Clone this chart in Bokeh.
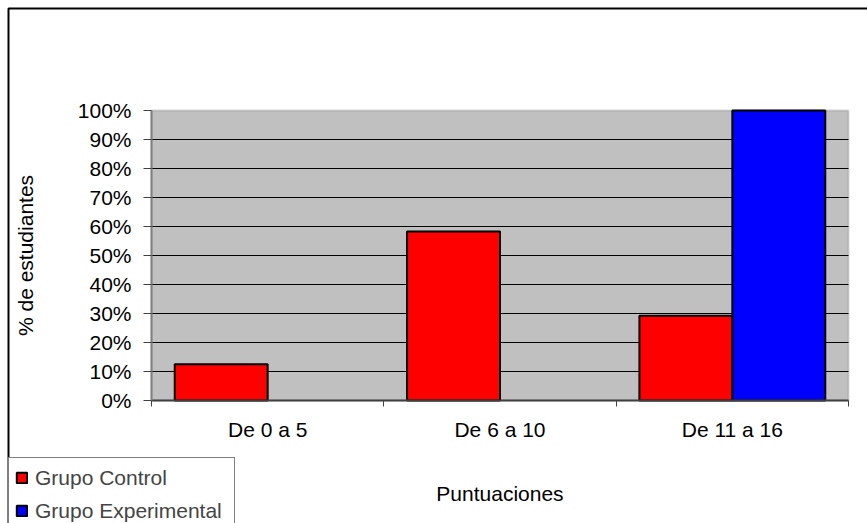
from bokeh.plotting import figure
from bokeh.models import (Range1d, FixedTicker, NumeralTickFormatter, Legend,
                          LegendItem, BoxAnnotation, ColumnDataSource, LinearAxis)
from bokeh.embed import file_html
from bokeh.resources import INLINE

# Score bands and share of students in each group
categories = ["De 0 a 5", "De 6 a 10", "De 11 a 16"]
series_names = ["Grupo Control", "Grupo Experimental"]
control = [0.125, 0.583, 0.292]
experimental = [0.0, 0.0, 1.0]
series_values = [control, experimental]
colors = ["#FF0000", "#0000FF"]
y_ticks = [0.0, 0.1, 0.2, 0.3, 0.4, 0.5, 0.6, 0.7, 0.8, 0.9, 1.0]

FONT = "Liberation Sans"
FS = "21px"

W, H = 867, 523
# pixel box of the plotting area inside the canvas
AREA_L, AREA_R, AREA_T, AREA_B = 151, 848, 110, 400
# chart border: left and top edges (right and bottom run past the canvas)
EDGE = 8

n_cat = len(categories)
y_max = y_ticks[-1]
px_x = (AREA_R - AREA_L) / n_cat
px_y = (AREA_B - AREA_T) / y_max


def to_x(px):
    return (px - AREA_L) / px_x


def to_y(py):
    return (AREA_B - py) / px_y


# the frame covers the whole canvas; axes are pinned to the plotting area
p = figure(width=W, height=H, min_border=0,
           x_range=Range1d(to_x(0), to_x(W)),
           y_range=Range1d(to_y(H), to_y(0)),
           x_axis_location=None, y_axis_location=None,
           output_backend="svg", toolbar_location=None)
p.outline_line_color = None
p.background_fill_color = "white"
p.border_fill_color = "white"
p.xgrid.visible = False
p.ygrid.visible = False

# chart border
p.line(x=[to_x(EDGE), to_x(EDGE), to_x(W + 10)],
       y=[to_y(H + 10), to_y(EDGE), to_y(EDGE)],
       line_color="black", line_width=2)

# grey plotting area with its border
p.add_layout(BoxAnnotation(left=0, right=n_cat, bottom=0, top=y_max,
                           fill_color="#C0C0C0", fill_alpha=1,
                           line_color="#808080", line_width=2,
                           level="underlay"))

# horizontal gridlines
inner = y_ticks[1:-1]
p.segment(x0=[0] * len(inner), x1=[n_cat] * len(inner), y0=inner, y1=inner,
          line_color="black", line_width=1)

# bars: each category spans one unit, two bars side by side
bar_w = 0.4
offsets = [-0.2, 0.2]
renderers = []
for vals, color, off in zip(series_values, colors, offsets):
    xs = [i + 0.5 + off for i, v in enumerate(vals) if v > 0]
    tops = [v for v in vals if v > 0]
    src = ColumnDataSource(data=dict(x=xs, top=tops))
    r = p.vbar(x="x", top="top", width=bar_w, bottom=0, source=src,
               fill_color=color, line_color="black", line_width=2)
    renderers.append(r)

# y axis
yax = LinearAxis(fixed_location=0, bounds=(0, y_max))
yax.ticker = FixedTicker(ticks=y_ticks)
yax.formatter = NumeralTickFormatter(format="0%")
yax.major_tick_out = 8
yax.major_tick_in = 0
yax.minor_tick_out = 0
yax.minor_tick_in = 0
yax.major_tick_line_color = "#404040"
yax.axis_line_color = "#808080"
yax.axis_line_width = 2
yax.major_label_text_font = FONT
yax.major_label_text_font_size = FS
yax.major_label_text_color = "black"
yax.major_label_standoff = 12
yax.axis_label = "% de estudiantes"
yax.axis_label_text_font = FONT
yax.axis_label_text_font_size = FS
yax.axis_label_text_font_style = "normal"
yax.axis_label_text_color = "black"
yax.axis_label_standoff = 38
p.add_layout(yax, "left")

# x axis: labels at category centres, short ticks at category boundaries
centres = [i + 0.5 for i in range(n_cat)]
bounds = [float(i) for i in range(n_cat + 1)]
xax = LinearAxis(fixed_location=0, bounds=(0, n_cat))
xax.ticker = FixedTicker(ticks=centres, minor_ticks=bounds)
xax.major_label_overrides = {c: lab for c, lab in zip(centres, categories)}
xax.major_tick_out = 0
xax.major_tick_in = 0
xax.minor_tick_out = 6
xax.minor_tick_in = 0
xax.minor_tick_line_color = "#404040"
xax.axis_line_color = "#404040"
xax.axis_line_width = 2
xax.major_label_text_font = FONT
xax.major_label_text_font_size = FS
xax.major_label_text_color = "black"
xax.major_label_standoff = 11
xax.axis_label = "Puntuaciones"
xax.axis_label_text_font = FONT
xax.axis_label_text_font_size = FS
xax.axis_label_text_font_style = "normal"
xax.axis_label_text_color = "black"
xax.axis_label_standoff = 38
p.add_layout(xax, "below")

legend = Legend(items=[LegendItem(label=n, renderers=[r])
                       for n, r in zip(series_names, renderers)],
                location=(EDGE, -8), orientation="vertical",
                padding=6, spacing=6, margin=0,
                label_height=27, glyph_height=13, glyph_width=13,
                label_standoff=7, label_width=193,
                label_text_font=FONT, label_text_font_size=FS,
                border_line_color="black", border_line_width=1,
                background_fill_color="white", background_fill_alpha=1)
p.add_layout(legend, "center")

open("out.html", "w").write(file_html(p, INLINE))
